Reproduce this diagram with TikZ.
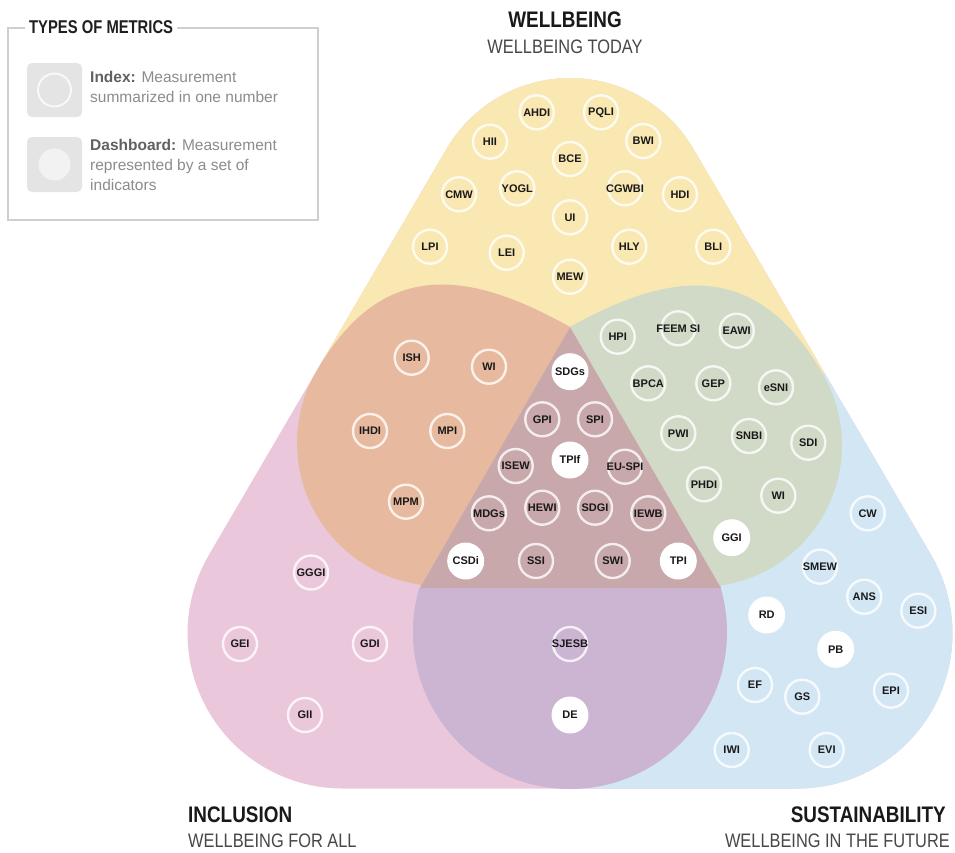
\documentclass[tikz,border=0pt]{standalone}
\usepackage{fontspec}
\setmainfont{Liberation Sans}
\newfontfamily\headfont[FakeStretch=0.84]{Liberation Sans}
\newfontfamily\keyheadfont[FakeStretch=0.8]{Liberation Sans}
\definecolor{yellowbg}{HTML}{F9E8B2}
\definecolor{pinkbg}{HTML}{EAC7DA}
\definecolor{bluebg}{HTML}{D3E6F4}
\definecolor{orangebg}{HTML}{E7BA9F}
\definecolor{greenbg}{HTML}{D0DAC6}
\definecolor{purplebg}{HTML}{CCB4D3}
\definecolor{mauvebg}{HTML}{C8A8AA}
\definecolor{keygray}{HTML}{E4E4E4}
\definecolor{keyline}{HTML}{CFCFCF}
\begin{document}
\begin{tikzpicture}
  [x=1pt, y=-1pt,
   ix/.style={circle, draw=white, draw opacity=0.8, line width=2.4pt, minimum size=34pt,
              inner sep=-8pt, text=black!90, font=\bfseries\fontsize{11}{12}\selectfont},
   db/.style={ix, draw=none, fill=white, minimum size=37pt},
   headline/.style={inner sep=0pt, text=black!90, font=\headfont\bfseries\fontsize{22.5}{26}\selectfont},
   subline/.style={inner sep=0pt, text=black!72, font=\headfont\fontsize{19.5}{22}\selectfont},
   keytext/.style={anchor=north west, inner sep=0pt, align=left, text=black!45,
                   font=\fontsize{15.5}{20}\selectfont}]
\fill[white] (0,0) rectangle (955,852);
\useasboundingbox (0,0) rectangle (955,852); % page size
% outer shape in three parts
\begin{scope}
  \clip (446.6,148.8) -- (208.7,555.2)
     -- plot[domain=210.3:90, samples=40] ({342.5+155*cos(\x)},{633.5+155*sin(\x)})
     -- (797.5,788.5)
     -- plot[domain=90:-30.3, samples=40] ({797.5+155*cos(\x)},{633.5+155*sin(\x)})
     -- (693.4,148.8)
     -- plot[domain=-30.3:-149.7, samples=40] ({570+143*cos(\x)},{221+143*sin(\x)})
     -- cycle;
  \fill[pinkbg] (0,0) rectangle (955,852);
  \fill[yellowbg] (570,501) -- (-190,110) -- (-190,-200) -- (1330,-200) -- (1330,116) -- cycle;
  \fill[bluebg] (570,501) -- (1330,116) -- (1330,1000) -- (570,1000) -- cycle;
\end{scope}
% overlaps
\fill[orangebg] (420,588)
  -- plot[domain=98:210.3, samples=40] ({440+143*cos(\x)},{443+143*sin(\x)})
  .. controls (379.6,262.8) and (461.3,265.8) .. (570,327) -- cycle;
\fill[greenbg] (721,588)
  -- plot[domain=81.5:-30.3, samples=40] ({700+142*cos(\x)},{445+142*sin(\x)})
  .. controls (759.7,265.4) and (678.8,265.8) .. (570,327) -- cycle;
\begin{scope}
  \clip (300,588) rectangle (900,800);
  \fill[purplebg] (570,632) circle (157);
\end{scope}
\fill[mauvebg] (570,327) -- (420,588) -- (721,588) -- cycle;
%
% wellbeing
\node at (536.7,112.3) (ahdi) [ix] {AHDI};
\node at (601,112.3) (pqli) [ix] {PQLI};
\node at (490,141.7) (hii) [ix] {HII};
\node at (643.3,141) (bwi) [ix] {BWI};
\node at (570,159) (bce) [ix] {BCE};
\node at (459,194.3) (cmw) [ix] {CMW};
\node at (517.3,188.3) (yogl) [ix] {YOGL};
\node at (625,188.3) (cgwbi) [ix] {CGWBI};
\node at (680,194.3) (hdi) [ix] {HDI};
\node at (570,217.3) (ui) [ix] {UI};
\node at (430,246.7) (lpi) [ix] {LPI};
\node at (506.7,252.7) (lei) [ix] {LEI};
\node at (629.3,246.7) (hly) [ix] {HLY};
\node at (713.3,246.7) (bli) [ix] {BLI};
\node at (570,276.7) (mew) [ix] {MEW};
% wellbeing and inclusion
\node at (411.7,357.7) (ish) [ix] {ISH};
\node at (489,366.7) (wiA) [ix] {WI};
\node at (370,431) (ihdi) [ix] {IHDI};
\node at (447.3,431) (mpi) [ix] {MPI};
\node at (406,501.7) (mpm) [ix] {MPM};
% all three
\node at (570,371.7) (sdgs) [db] {SDGs};
\node at (542.3,419.3) (gpi) [ix] {GPI};
\node at (595,419.3) (spi) [ix] {SPI};
\node at (515.7,466) (isew) [ix] {ISEW};
\node at (570,460) (tpif) [db] {TPIf};
\node at (625,466.7) (euspi) [ix] {EU-SPI};
\node at (489,513.3) (mdgs) [ix] {MDGs};
\node at (542.3,507.7) (hewi) [ix] {HEWI};
\node at (595,507.7) (sdgi) [ix] {SDGI};
\node at (648.3,513.3) (iewb) [ix] {IEWB};
\node at (465.7,561) (csdi) [db] {CSDi};
\node at (536,561) (ssi) [ix] {SSI};
\node at (612.7,561) (swi) [ix] {SWI};
\node at (678.3,561) (tpi) [db] {TPI};
% wellbeing and sustainability
\node at (617.7,336.7) (hpi) [ix] {HPI};
\node at (678.3,328.3) (feemsi) [ix] {FEEM SI};
\node at (736.7,330.7) (eawi) [ix] {EAWI};
\node at (648.3,383.3) (bpca) [ix] {BPCA};
\node at (713.3,383.3) (gep) [ix] {GEP};
\node at (776,387.3) (esni) [ix] {eSNI};
\node at (678.3,433.3) (pwi) [ix] {PWI};
\node at (749,436) (snbi) [ix] {SNBI};
\node at (808.3,442.7) (sdi) [ix] {SDI};
\node at (704,484.3) (phdi) [ix] {PHDI};
\node at (778.3,495.7) (wiB) [ix] {WI};
\node at (731.7,537.7) (ggi) [db] {GGI};
% inclusion
\node at (311,572.5) (gggi) [ix] {GGGI};
\node at (240,644) (gei) [ix] {GEI};
\node at (370,644) (gdi) [ix] {GDI};
\node at (305,715) (gii) [ix] {GII};
% inclusion and sustainability
\node at (570,644) (sjesb) [ix] {SJESB};
\node at (570,715) (de) [db] {DE};
% sustainability
\node at (867.7,513.3) (cw) [ix] {CW};
\node at (820,566.7) (smew) [ix] {SMEW};
\node at (864.3,596.7) (ans) [ix] {ANS};
\node at (918.3,610.7) (esi) [ix] {ESI};
\node at (766.7,615) (rd) [db] {RD};
\node at (835.7,649.3) (pb) [db] {PB};
\node at (755,685) (ef) [ix] {EF};
\node at (802.3,696.7) (gs) [ix] {GS};
\node at (891,690.7) (epi) [ix] {EPI};
\node at (731.7,750) (iwi) [ix] {IWI};
\node at (826.7,750) (evi) [ix] {EVI};
%
% headings
\node at (565,20) (wbtitle) [headline] {WELLBEING};
\node at (565,47) (wbsub) [subline] {WELLBEING TODAY};
\node at (188,815) (inctitle) [headline, anchor=west] {INCLUSION};
\node at (188,841) (incsub) [subline, anchor=west] {WELLBEING FOR ALL};
\node at (946,815) (sustitle) [headline, anchor=east] {SUSTAINABILITY};
\node at (950,841) (sussub) [subline, anchor=east] {WELLBEING IN THE FUTURE};
%
% key
\draw[keyline, line width=1.2pt] (8,28) rectangle (318,220);
\node at (25,27) (keytitle) [anchor=west, fill=white, inner xsep=4pt, inner ysep=3pt,
  text=black!88, font=\keyheadfont\bfseries\fontsize{18.5}{20}\selectfont] {TYPES OF METRICS};
\fill[keygray, rounded corners=5pt] (27,63) rectangle (82,117);
\draw[white, line width=1.8pt, draw opacity=0.85] (54.5,90) circle (16.5);
\fill[keygray, rounded corners=5pt] (27,137) rectangle (82,192);
\fill[white!95!black] (54.5,164.5) circle (16);
\node at (90,71) (keyindex) [keytext]
  {\textcolor{black!62}{\bfseries Index:} Measurement\\summarized in one number};
\node at (90,139) (keydash) [keytext]
  {\textcolor{black!62}{\bfseries Dashboard:} Measurement\\represented by a set of\\indicators};
\end{tikzpicture}
\end{document}
